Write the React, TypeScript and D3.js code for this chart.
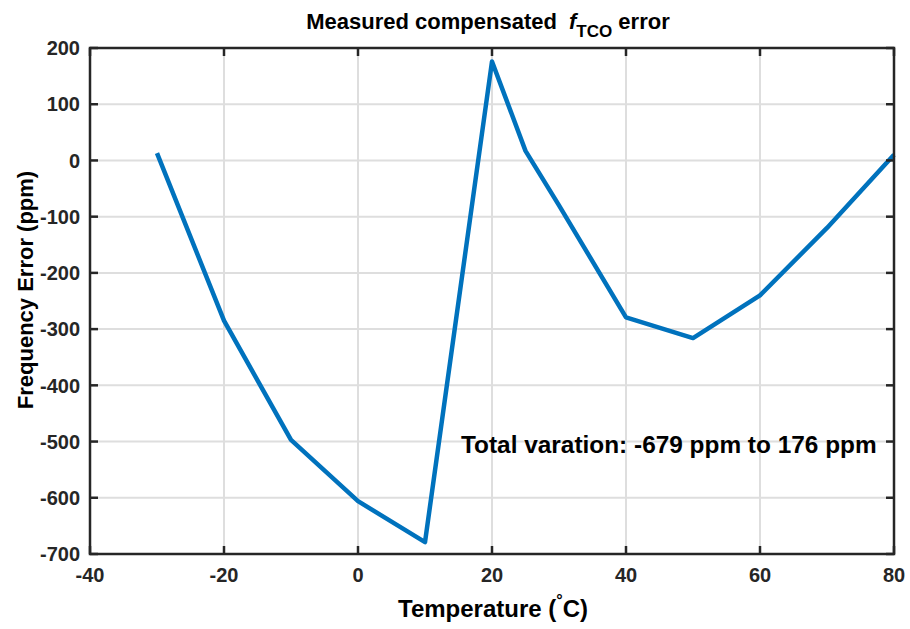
import React from "react";
import * as d3 from "d3";

const temps = [-30, -20, -10, 0, 10, 20, 25, 30, 40, 50, 60, 70, 80];
const errors = [13, -285, -497, -606, -679, 176, 17, -80, -279, -316, -240, -120, 10];
const xTicks = [-40, -20, 0, 20, 40, 60, 80];
const yTicks = [200, 100, 0, -100, -200, -300, -400, -500, -600, -700];

export default function App() {
  const W = 910, H = 629;
  const m = { l: 90, r: 894, t: 48, b: 554 };
  const x = d3.scaleLinear().domain([-40, 80]).range([m.l, m.r]);
  const y = d3.scaleLinear().domain([-700, 200]).range([m.b, m.t]);
  const line = d3.line<number>().x((_, i) => x(temps[i])).y((d) => y(d));
  const font = "'Liberation Sans', Arial, sans-serif";
  const tl = 8;
  return (
    <svg width={W} height={H} style={{ position: "absolute", left: 0, top: 0, background: "#fff" }} fontFamily={font} fontWeight="bold">
      <rect x={0} y={0} width={W} height={H} fill="#fff" />
      {xTicks.map((t) => (
        <line key={"gx" + t} x1={x(t)} x2={x(t)} y1={m.t} y2={m.b} stroke="#dedede" strokeWidth={2} />
      ))}
      {yTicks.map((t) => (
        <line key={"gy" + t} x1={m.l} x2={m.r} y1={y(t)} y2={y(t)} stroke="#dedede" strokeWidth={2} />
      ))}
      <path d={line(errors) || ""} fill="none" stroke="#0072BD" strokeWidth={4.5} strokeLinejoin="round" />
      <text x={461} y={453} fontSize={24.4} fill="#000">Total varation: -679 ppm to 176 ppm</text>
      <rect x={m.l} y={m.t} width={m.r - m.l} height={m.b - m.t} fill="none" stroke="#262626" strokeWidth={2.5} />
      {xTicks.map((t) => (
        <g key={"tx" + t}>
          <line x1={x(t)} x2={x(t)} y1={m.b} y2={m.b - tl} stroke="#262626" strokeWidth={2.5} />
          <line x1={x(t)} x2={x(t)} y1={m.t} y2={m.t + tl} stroke="#262626" strokeWidth={2.5} />
          <text x={x(t)} y={582} textAnchor="middle" fontSize={20} fill="#262626">{t}</text>
        </g>
      ))}
      {yTicks.map((t) => (
        <g key={"ty" + t}>
          <line x1={m.l} x2={m.l + tl} y1={y(t)} y2={y(t)} stroke="#262626" strokeWidth={2.5} />
          <line x1={m.r} x2={m.r - tl} y1={y(t)} y2={y(t)} stroke="#262626" strokeWidth={2.5} />
          <text x={m.l - 10} y={y(t)} dy="0.36em" textAnchor="end" fontSize={20} fill="#262626">{t}</text>
        </g>
      ))}
      <text x={493} y={617} textAnchor="middle" fontSize={24} fill="#000">
        Temperature (<tspan fontSize={16} dy={-11}>°</tspan><tspan dy={11}>C)</tspan>
      </text>
      <text transform={`translate(33,290) rotate(-90)`} textAnchor="middle" fontSize={22} fill="#000">Frequency Error (ppm)</text>
      <text x={488} y={29} textAnchor="middle" fontSize={22} fill="#000">
        Measured compensated <tspan fontStyle="italic" dx={6}>f</tspan><tspan fontSize={17} dy={8}>TCO</tspan><tspan dy={-8}> error</tspan>
      </text>
    </svg>
  );
}
